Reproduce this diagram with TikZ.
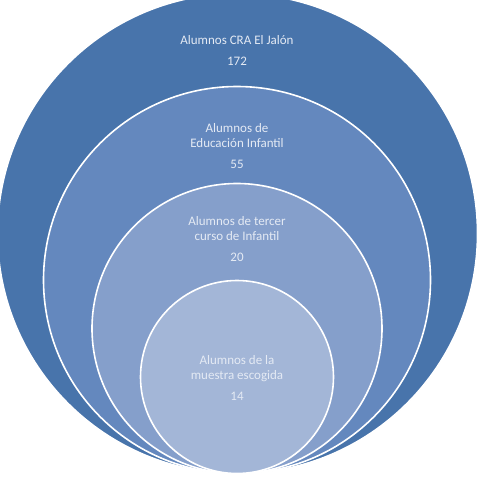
\documentclass[tikz,border=0pt]{standalone}
\usepackage{fontspec}
\setmainfont{Carlito}
\definecolor{ringA}{RGB}{72,116,171}
\definecolor{ringB}{RGB}{100,136,190}
\definecolor{ringC}{RGB}{133,159,203}
\definecolor{ringD}{RGB}{163,182,215}
\definecolor{txt}{RGB}{228,234,244}
\begin{document}
\begin{tikzpicture}[x=1pt,y=-1pt,
  ring/.style={circle,draw=white,line width=1.6pt,inner sep=0pt},
  lbl/.style={text=txt,align=center,font=\fontsize{13}{15}\selectfont,anchor=base}]
\useasboundingbox (0,0) rectangle (480,485);
\clip (0,0) rectangle (480,485);
\node[ring,fill=ringA,minimum size=480pt] (c1) at (237.5,233.5) {};
\node[ring,fill=ringB,minimum size=387pt] (c2) at (237,280) {};
\node[ring,fill=ringC,minimum size=290pt] (c3) at (237,328.5) {};
\node[ring,fill=ringD,minimum size=193pt] (c4) at (237,377) {};
\node[lbl] (t1) at (237,65.5) {Alumnos CRA El Jalón\\[6pt]172};
\node[lbl] (t2) at (237,168.5) {Alumnos de\\Educación Infantil\\[6pt]55};
\node[lbl] (t3) at (237,261.5) {Alumnos de tercer\\curso de Infantil\\[6pt]20};
\node[lbl] (t4) at (237,400.5) {Alumnos de la\\muestra escogida\\[6pt]14};
\end{tikzpicture}
\end{document}
